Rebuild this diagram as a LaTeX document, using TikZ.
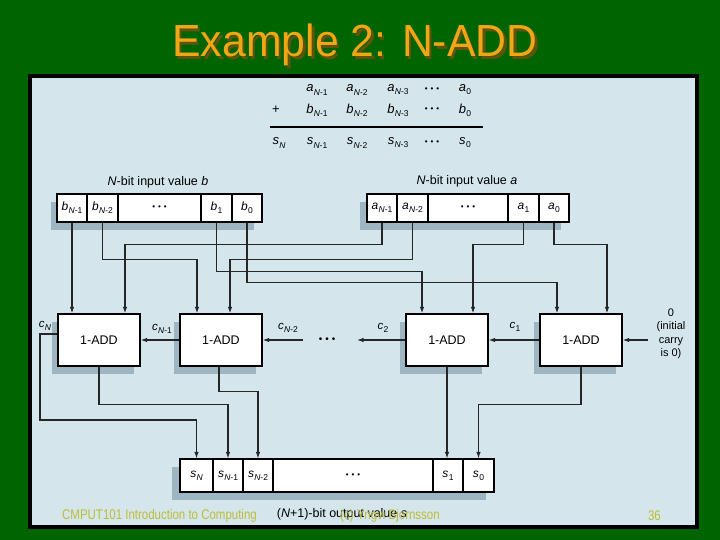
\documentclass[tikz,border=0pt]{standalone}
\usepackage{fontspec}
\setmainfont{Liberation Sans}
\usetikzlibrary{arrows.meta}
\definecolor{bggreen}{RGB}{0,100,0}
\definecolor{panelbg}{RGB}{212,230,236}
\definecolor{shadecol}{RGB}{158,181,194}
\definecolor{titleor}{RGB}{242,166,22}
\definecolor{titlesh}{RGB}{96,84,12}
\definecolor{footcol}{RGB}{188,188,56}
\newcommand\sbv[2]{\textit{#1}\kern0.3pt\raisebox{-0.45ex}{\fontsize{8.5}{9}\selectfont #2}}
\newcommand\dotsb{{\fontsize{8}{9}\selectfont\textbullet\hspace{3pt}\textbullet\hspace{3pt}\textbullet}}
\begin{document}
\begin{tikzpicture}[x=1pt,y=-1pt,
  wire/.style={draw=black!85,line width=1.1pt},
  arr/.style={wire,-{Latex[length=6.5pt,width=4.5pt]}},
  cell/.style={draw=black,line width=1.1pt,fill=white,inner sep=0pt,font=\fontsize{12}{14}\selectfont},
  regb/.style={cell,minimum height=28pt},
  rego/.style={cell,minimum height=33pt},
  adder/.style={draw=black,line width=1.3pt,fill=white,minimum width=82pt,minimum height=52pt,inner sep=0pt,font=\fontsize{12.5}{14}\selectfont},
  lbl/.style={inner sep=0pt,font=\fontsize{12.5}{14}\selectfont},
  eq/.style={inner sep=0pt,font=\fontsize{13}{15}\selectfont},
  clbl/.style={inner sep=0pt,font=\fontsize{11.5}{13}\selectfont},
  foot/.style={inner sep=0pt,text=footcol,font=\fontsize{14}{16}\selectfont}]
\useasboundingbox (0,0) rectangle (720,540);
\fill[bggreen] (0,0) rectangle (720,540);
\fill[black] (28,74) rectangle (699,529);
\fill[panelbg] (32,78) rectangle (695,525);

% title
\node[inner sep=0pt,text=titlesh,font=\fontsize{45}{50}\selectfont] at (357.5,47.5) {\scalebox{0.95}[1]{Example 2: N-ADD}};
\node[inner sep=0pt,text=titleor,font=\fontsize{45}{50}\selectfont] (title) at (355,45) {\scalebox{0.95}[1]{Example 2: N-ADD}};

% top equation
\node[eq] (ea1) at (317,90) {\sbv{a}{\textit{N}-1}};
\node[eq] (ea2) at (357,90) {\sbv{a}{\textit{N}-2}};
\node[eq] (ea3) at (398,90) {\sbv{a}{\textit{N}-3}};
\node[eq] (ead) at (432,90) {\dotsb};
\node[eq] (ea0) at (465,90) {\sbv{a}{0}};
\node[eq] (eplus) at (276,110) {+};
\node[eq] (eb1) at (317,110) {\sbv{b}{\textit{N}-1}};
\node[eq] (eb2) at (357,110) {\sbv{b}{\textit{N}-2}};
\node[eq] (eb3) at (398,110) {\sbv{b}{\textit{N}-3}};
\node[eq] (ebd) at (432,110) {\dotsb};
\node[eq] (eb0) at (465,110) {\sbv{b}{0}};
\coordinate (eqL) at (270,127);
\coordinate (eqR) at (483,127);
\draw[line width=1.1pt] (eqL) -- (eqR);
\node[eq] (esN) at (279,143) {\sbv{s}{\textit{N}}};
\node[eq] (es1) at (317,143) {\sbv{s}{\textit{N}-1}};
\node[eq] (es2) at (357,143) {\sbv{s}{\textit{N}-2}};
\node[eq] (es3) at (398,143) {\sbv{s}{\textit{N}-3}};
\node[eq] (esd) at (432,143) {\dotsb};
\node[eq] (es0) at (465,143) {\sbv{s}{0}};

% register labels
\node[lbl] (lb) at (158,182) {\textit{N}-bit input value \textit{b}};
\node[lbl] (la) at (467,181) {\textit{N}-bit input value \textit{a}};

% shadows
\fill[shadecol] (51,202) rectangle (254,230);
\fill[shadecol] (360,202) rectangle (561,230);
\fill[shadecol] (172,467) rectangle (486,500);
\fill[shadecol] (52,322) rectangle (134,374);
\fill[shadecol] (174,322) rectangle (256,374);
\fill[shadecol] (400,322) rectangle (482,374);
\fill[shadecol] (534,322) rectangle (616,374);

% register b
\node[regb,minimum width=30pt] (bN1) at (72,208) {\sbv{b}{\textit{N}-1}};
\node[regb,minimum width=31pt] (bN2) at (102.5,208) {\sbv{b}{\textit{N}-2}};
\node[regb,minimum width=83pt] (bd) at (159.5,208) {\dotsb};
\node[regb,minimum width=31pt] (b1) at (216.5,208) {\sbv{b}{1}};
\node[regb,minimum width=30pt] (b0) at (247,208) {\sbv{b}{0}};
% register a
\node[regb,minimum width=30pt] (aN1) at (382,208) {\sbv{a}{\textit{N}-1}};
\node[regb,minimum width=31pt] (aN2) at (412.5,208) {\sbv{a}{\textit{N}-2}};
\node[regb,minimum width=80pt] (ad) at (468,208) {\dotsb};
\node[regb,minimum width=31pt] (a1) at (523.5,208) {\sbv{a}{1}};
\node[regb,minimum width=30pt] (a0) at (554,208) {\sbv{a}{0}};
% output register
\node[rego,minimum width=33pt] (sN) at (196.5,475.5) {\sbv{s}{\textit{N}}};
\node[rego,minimum width=30pt] (sN1) at (228,475.5) {\sbv{s}{\textit{N}-1}};
\node[rego,minimum width=30pt] (sN2) at (258,475.5) {\sbv{s}{\textit{N}-2}};
\node[rego,minimum width=160pt] (sd) at (353,475.5) {\dotsb};
\node[rego,minimum width=30pt] (s1) at (448,475.5) {\sbv{s}{1}};
\node[rego,minimum width=31pt] (s0) at (478.5,475.5) {\sbv{s}{0}};
\node[lbl] (lo) at (342,514) {(\textit{N}+1)-bit output value \textit{s}};

% adders
\node[adder] (add1) at (99,340) {1-ADD};
\node[adder] (add2) at (221,340) {1-ADD};
\node[adder] (add3) at (447,340) {1-ADD};
\node[adder] (add4) at (581,340) {1-ADD};

% input wires
\draw[arr] (bN1.south) -- (bN1.south |- add1.north);
\draw[arr] (aN1.south) -- ++(0,22) -| ([xshift=26pt]add1.north);
\draw[arr] (bN2.south) -- ++(0,37) -| ([xshift=-24pt]add2.north);
\draw[arr] (aN2.south) -- ++(0,37) -| ([xshift=9pt]add2.north);
\draw[arr] (b1.south) -- ++(0,49) -| ([xshift=-25pt]add3.north);
\draw[arr] (a1.south) -- ++(0,22) -| ([xshift=26pt]add3.north);
\draw[arr] (b0.south) -- ++(0,60) -| ([xshift=-24pt]add4.north);
\draw[arr] (a0.south) -- ++(0,22) -| ([xshift=26pt]add4.north);

% carries
\node[inner sep=0pt,font=\fontsize{10}{12}\selectfont] (cdots) at (327,340) {\textbullet\hspace{3pt}\textbullet\hspace{3pt}\textbullet};
\coordinate (cNm2) at (303,340);
\coordinate (c2end) at (357,340);
\coordinate (cin) at (648,340);
\draw[arr] (add2.west) -- (add1.east);
\draw[arr] (cNm2) -- (add2.east);
\draw[arr] (add3.west) -- (c2end);
\draw[arr] (add4.west) -- (add3.east);
\draw[arr] (cin) -- (add4.east);
\node[clbl] (lcN) at (45,326) {\sbv{c}{\textit{N}}};
\node[clbl] (lcN1) at (162,329) {\sbv{c}{\textit{N}-1}};
\node[clbl] (lcN2) at (288,328) {\sbv{c}{\textit{N}-2}};
\node[clbl] (lc2) at (383,328) {\sbv{c}{2}};
\node[clbl] (lc1) at (515,327) {\sbv{c}{1}};
\node[clbl,align=center,font=\fontsize{11}{13.5}\selectfont] (linit) at (671,334) {0\\(initial\\carry\\is 0)};

% output wires
\coordinate (cnc) at (40,420);
\draw[arr] ([yshift=6pt]add1.west) -| (cnc) -| (sN.north);
\draw[arr] (add1.south) -- ++(0,38) -| (sN1.north);
\draw[arr] ([xshift=-2pt]add2.south) -- ++(0,25) -| (sN2.north);
\draw[arr] (add3.south) -- (add3.south |- s1.north);
\draw[arr] (add4.south) -- ++(0,38) -| (s0.north);

% footer
\node[foot,anchor=west] (f1) at (62,516) {\scalebox{0.82}[1]{CMPUT101 Introduction to Computing}};
\node[foot,anchor=west] (f2) at (340,516) {\scalebox{0.82}[1]{(c) Yngvi Bjornsson}};
\node[foot,anchor=east] (f3) at (661,516) {\scalebox{0.82}[1]{36}};
\end{tikzpicture}
\end{document}
